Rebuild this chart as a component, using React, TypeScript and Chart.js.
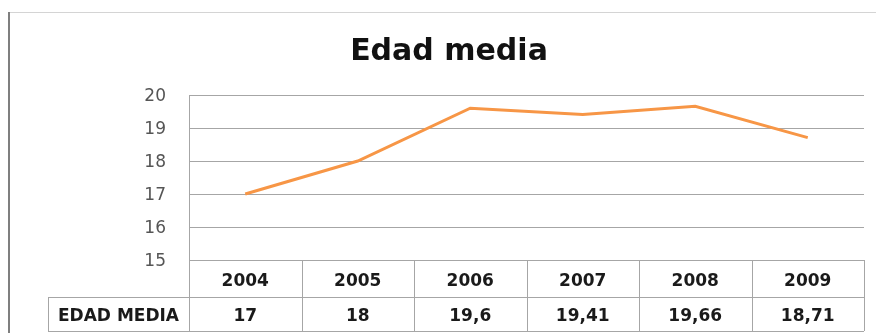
import React, { useEffect, useRef } from 'react';
import { Chart, registerables } from 'chart.js';

Chart.register(...registerables);

const TITLE = 'Edad media';
const SERIES_LABEL = 'EDAD MEDIA';
const categories = ['2004', '2005', '2006', '2007', '2008', '2009'];
const edadMedia = [17, 18, 19.6, 19.41, 19.66, 18.71];
const yMin = 15;
const yMax = 20;
const yStep = 1;

const FONT = '"DejaVu Sans", "Liberation Sans", sans-serif';
const GRID = '#a6a6a6';
const TEXT = '#1a1a1a';

const fmt = (v: number) => String(v).replace('.', ',');

export default function App() {
  const ref = useRef<HTMLCanvasElement>(null);

  useEffect(() => {
    const canvas = ref.current;
    if (!canvas) return;

    const tablePlugin = {
      id: 'tableAndFrame',
      afterDraw(chart: any) {
        const ctx = chart.ctx as CanvasRenderingContext2D;
        const area = chart.chartArea;
        const xs = chart.scales.x;
        const n = categories.length;
        const colW = (area.right - area.left) / n;
        const top = Math.round(area.bottom);
        const row1 = top + 37;
        const row2 = top + 71;
        const labelLeft = 48;
        const L = Math.round(area.left);
        const R = Math.round(area.right);

        ctx.save();
        // outer frame
        ctx.strokeStyle = '#d4d4d4';
        ctx.lineWidth = 1;
        ctx.beginPath();
        ctx.moveTo(8, 12.5);
        ctx.lineTo(chart.width, 12.5);
        ctx.stroke();
        ctx.strokeStyle = '#7f7f7f';
        ctx.lineWidth = 2;
        ctx.beginPath();
        ctx.moveTo(9, 12);
        ctx.lineTo(9, chart.height);
        ctx.stroke();

        // title
        ctx.fillStyle = '#111';
        ctx.font = `bold 30px ${FONT}`;
        ctx.textAlign = 'center';
        ctx.textBaseline = 'alphabetic';
        ctx.fillText(TITLE, 449, 60);

        // table grid
        ctx.strokeStyle = GRID;
        ctx.lineWidth = 1;
        ctx.beginPath();
        ctx.moveTo(labelLeft, row1 + 0.5);
        ctx.lineTo(R, row1 + 0.5);
        ctx.moveTo(labelLeft, row2 + 0.5);
        ctx.lineTo(R, row2 + 0.5);
        ctx.moveTo(labelLeft + 0.5, row1);
        ctx.lineTo(labelLeft + 0.5, row2);
        ctx.moveTo(L + 0.5, area.top);
        ctx.lineTo(L + 0.5, row2);
        for (let i = 1; i <= n; i++) {
          const bx = Math.round(area.left + i * colW) + 0.5;
          ctx.moveTo(bx, top);
          ctx.lineTo(bx, row2);
        }
        ctx.stroke();

        // texts
        ctx.fillStyle = TEXT;
        ctx.font = `bold 17px ${FONT}`;
        ctx.textAlign = 'center';
        ctx.textBaseline = 'alphabetic';
        categories.forEach((c, i) => {
          const cx = xs.getPixelForValue(i);
          ctx.fillText(c, cx, top + 26);
          ctx.fillText(fmt(edadMedia[i]), cx, row1 + 24);
        });
        ctx.fillText(SERIES_LABEL, (labelLeft + L) / 2, row1 + 24);
        ctx.restore();
      },
    };

    const chart = new Chart(canvas, {
      type: 'line',
      data: {
        labels: categories,
        datasets: [
          {
            label: SERIES_LABEL,
            data: edadMedia,
            borderColor: '#f79646',
            backgroundColor: '#f79646',
            borderWidth: 3,
            pointRadius: 0,
            tension: 0,
          },
        ],
      },
      options: {
        responsive: false,
        animation: false,
        layout: { padding: { left: 0, right: 12, top: 95, bottom: 0 } },
        plugins: {
          legend: { display: false },
          title: { display: false },
          tooltip: { enabled: false },
        },
        scales: {
          x: {
            type: 'category',
            offset: true,
            grid: { display: false, drawTicks: false },
            border: { display: false },
            ticks: { display: false },
            afterFit: (s: any) => {
              s.height = 73;
            },
          },
          y: {
            min: yMin,
            max: yMax,
            ticks: {
              stepSize: yStep,
              padding: 23,
              labelOffset: 2,
              color: '#555',
              font: { family: FONT, size: 17 },
            },
            grid: { color: GRID, drawTicks: false, lineWidth: 1 },
            border: { display: true, color: GRID },
            afterFit: (s: any) => {
              s.width = 189;
            },
          },
        },
      },
      plugins: [tablePlugin],
    });

    return () => chart.destroy();
  }, []);

  return (
    <div style={{ position: 'fixed', left: 0, top: 0, width: 876, height: 333, background: '#fff' }}>
      <canvas ref={ref} width={876} height={333} style={{ display: 'block' }} />
    </div>
  );
}
